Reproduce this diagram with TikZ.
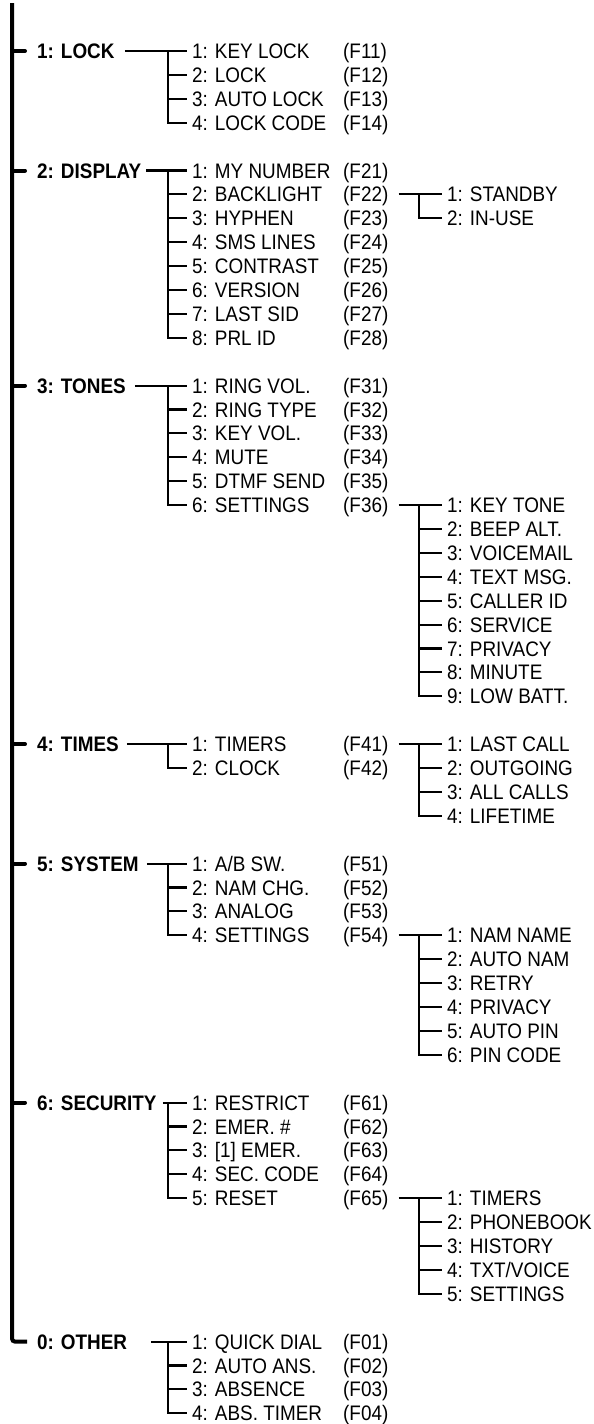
\documentclass[tikz,border=0pt]{standalone}
\usepackage{fontspec}
\setmainfont{Liberation Sans}[FakeStretch=0.9]

\begin{document}
\begin{tikzpicture}[x=1pt, y=-23.9pt,
		head/.style={anchor=west, inner sep=0pt, text height=15pt, text depth=0pt, font=\fontsize{21}{25}\selectfont\bfseries},
		entry/.style={anchor=west, inner xsep=5pt, inner ysep=0pt, text height=15pt, text depth=0pt, font=\fontsize{21}{25}\selectfont},
		fcode/.style={entry, inner xsep=0pt},
		trunk/.style={line width=4pt},
		wire/.style={line width=2.1pt}]
			\useasboundingbox (0, -2.134) rectangle (594, 57.448);
			\coordinate (top) at (12, -2.008);
			\coordinate (b2) at (168, 0);
			\coordinate (b3) at (419, 0);
			% top level
			\node[head] (lock) at (37, 0){1: LOCK};
			\node[head] (disp) at (37, 5){2: DISPLAY};
			\node[head] (tone) at (37, 14){3: TONES};
			\node[head] (time) at (37, 29){4: TIMES};
			\node[head] (sys) at (37, 34){5: SYSTEM};
			\node[head] (sec) at (37, 44){6: SECURITY};
			\node[head] (oth) at (37, 54){0: OTHER};
			\draw[trunk, rounded corners=3pt] (top) |- ([xshift=-10pt]oth.west);
			\draw[trunk, line cap=round] (lock.west -| top) -- ([xshift=-12pt]lock.west);
			\draw[trunk, line cap=round] (disp.west -| top) -- ([xshift=-12pt]disp.west);
			\draw[trunk, line cap=round] (tone.west -| top) -- ([xshift=-12pt]tone.west);
			\draw[trunk, line cap=round] (time.west -| top) -- ([xshift=-12pt]time.west);
			\draw[trunk, line cap=round] (sys.west -| top) -- ([xshift=-12pt]sys.west);
			\draw[trunk, line cap=round] (sec.west -| top) -- ([xshift=-12pt]sec.west);
			% 1: lock
			\node[entry] (lock1) at (187, 0){1: KEY LOCK};
			\node[entry] (lock2) at (187, 1){2: LOCK};
			\node[entry] (lock3) at (187, 2){3: AUTO LOCK};
			\node[entry] (lock4) at (187, 3){4: LOCK CODE};
			\node[fcode] (f11) at (343, 0){(F11)};
			\node[fcode] (f12) at (343, 1){(F12)};
			\node[fcode] (f13) at (343, 2){(F13)};
			\node[fcode] (f14) at (343, 3){(F14)};
			\draw[wire] ([xshift=10pt]lock.east) -- (lock1.west);
			\draw[wire] (lock1.west -| b2) |- (lock4.west);
			\draw[wire] (lock2.west -| b2) -- (lock2.west);
			\draw[wire] (lock3.west -| b2) -- (lock3.west);
			% 2: display
			\node[entry] (disp1) at (187, 5){1: MY NUMBER};
			\node[entry] (disp2) at (187, 6){2: BACKLIGHT};
			\node[entry] (disp3) at (187, 7){3: HYPHEN};
			\node[entry] (disp4) at (187, 8){4: SMS LINES};
			\node[entry] (disp5) at (187, 9){5: CONTRAST};
			\node[entry] (disp6) at (187, 10){6: VERSION};
			\node[entry] (disp7) at (187, 11){7: LAST SID};
			\node[entry] (disp8) at (187, 12){8: PRL ID};
			\node[fcode] (f21) at (343, 5){(F21)};
			\node[fcode] (f22) at (343, 6){(F22)};
			\node[fcode] (f23) at (343, 7){(F23)};
			\node[fcode] (f24) at (343, 8){(F24)};
			\node[fcode] (f25) at (343, 9){(F25)};
			\node[fcode] (f26) at (343, 10){(F26)};
			\node[fcode] (f27) at (343, 11){(F27)};
			\node[fcode] (f28) at (343, 12){(F28)};
			\draw[wire] ([xshift=5pt]disp.east) -- (disp1.west);
			\draw[wire] (disp1.west -| b2) |- (disp8.west);
			\draw[wire] (disp2.west -| b2) -- (disp2.west);
			\draw[wire] (disp3.west -| b2) -- (disp3.west);
			\draw[wire] (disp4.west -| b2) -- (disp4.west);
			\draw[wire] (disp5.west -| b2) -- (disp5.west);
			\draw[wire] (disp6.west -| b2) -- (disp6.west);
			\draw[wire] (disp7.west -| b2) -- (disp7.west);
			\node[entry] (lite1) at (442, 6){1: STANDBY};
			\node[entry] (lite2) at (442, 7){2: IN-USE};
			\draw[wire] ([xshift=10pt]f22.east) -- (lite1.west);
			\draw[wire] (lite1.west -| b3) |- (lite2.west);
			% 3: tones
			\node[entry] (tone1) at (187, 14){1: RING VOL.};
			\node[entry] (tone2) at (187, 15){2: RING TYPE};
			\node[entry] (tone3) at (187, 16){3: KEY VOL.};
			\node[entry] (tone4) at (187, 17){4: MUTE};
			\node[entry] (tone5) at (187, 18){5: DTMF SEND};
			\node[entry] (tone6) at (187, 19){6: SETTINGS};
			\node[fcode] (f31) at (343, 14){(F31)};
			\node[fcode] (f32) at (343, 15){(F32)};
			\node[fcode] (f33) at (343, 16){(F33)};
			\node[fcode] (f34) at (343, 17){(F34)};
			\node[fcode] (f35) at (343, 18){(F35)};
			\node[fcode] (f36) at (343, 19){(F36)};
			\draw[wire] ([xshift=9pt]tone.east) -- (tone1.west);
			\draw[wire] (tone1.west -| b2) |- (tone6.west);
			\draw[wire] (tone2.west -| b2) -- (tone2.west);
			\draw[wire] (tone3.west -| b2) -- (tone3.west);
			\draw[wire] (tone4.west -| b2) -- (tone4.west);
			\draw[wire] (tone5.west -| b2) -- (tone5.west);
			\node[entry] (snd1) at (442, 19){1: KEY TONE};
			\node[entry] (snd2) at (442, 20){2: BEEP ALT.};
			\node[entry] (snd3) at (442, 21){3: VOICEMAIL};
			\node[entry] (snd4) at (442, 22){4: TEXT MSG.};
			\node[entry] (snd5) at (442, 23){5: CALLER ID};
			\node[entry] (snd6) at (442, 24){6: SERVICE};
			\node[entry] (snd7) at (442, 25){7: PRIVACY};
			\node[entry] (snd8) at (442, 26){8: MINUTE};
			\node[entry] (snd9) at (442, 27){9: LOW BATT.};
			\draw[wire] ([xshift=10pt]f36.east) -- (snd1.west);
			\draw[wire] (snd1.west -| b3) |- (snd9.west);
			\draw[wire] (snd2.west -| b3) -- (snd2.west);
			\draw[wire] (snd3.west -| b3) -- (snd3.west);
			\draw[wire] (snd4.west -| b3) -- (snd4.west);
			\draw[wire] (snd5.west -| b3) -- (snd5.west);
			\draw[wire] (snd6.west -| b3) -- (snd6.west);
			\draw[wire] (snd7.west -| b3) -- (snd7.west);
			\draw[wire] (snd8.west -| b3) -- (snd8.west);
			% 4: times
			\node[entry] (time1) at (187, 29){1: TIMERS};
			\node[entry] (time2) at (187, 30){2: CLOCK};
			\node[fcode] (f41) at (343, 29){(F41)};
			\node[fcode] (f42) at (343, 30){(F42)};
			\draw[wire] ([xshift=8pt]time.east) -- (time1.west);
			\draw[wire] (time1.west -| b2) |- (time2.west);
			\node[entry] (tmr1) at (442, 29){1: LAST CALL};
			\node[entry] (tmr2) at (442, 30){2: OUTGOING};
			\node[entry] (tmr3) at (442, 31){3: ALL CALLS};
			\node[entry] (tmr4) at (442, 32){4: LIFETIME};
			\draw[wire] ([xshift=10pt]f41.east) -- (tmr1.west);
			\draw[wire] (tmr1.west -| b3) |- (tmr4.west);
			\draw[wire] (tmr2.west -| b3) -- (tmr2.west);
			\draw[wire] (tmr3.west -| b3) -- (tmr3.west);
			% 5: system
			\node[entry] (sys1) at (187, 34){1: A/B SW.};
			\node[entry] (sys2) at (187, 35){2: NAM CHG.};
			\node[entry] (sys3) at (187, 36){3: ANALOG};
			\node[entry] (sys4) at (187, 37){4: SETTINGS};
			\node[fcode] (f51) at (343, 34){(F51)};
			\node[fcode] (f52) at (343, 35){(F52)};
			\node[fcode] (f53) at (343, 36){(F53)};
			\node[fcode] (f54) at (343, 37){(F54)};
			\draw[wire] ([xshift=8pt]sys.east) -- (sys1.west);
			\draw[wire] (sys1.west -| b2) |- (sys4.west);
			\draw[wire] (sys2.west -| b2) -- (sys2.west);
			\draw[wire] (sys3.west -| b2) -- (sys3.west);
			\node[entry] (nam1) at (442, 37){1: NAM NAME};
			\node[entry] (nam2) at (442, 38){2: AUTO NAM};
			\node[entry] (nam3) at (442, 39){3: RETRY};
			\node[entry] (nam4) at (442, 40){4: PRIVACY};
			\node[entry] (nam5) at (442, 41){5: AUTO PIN};
			\node[entry] (nam6) at (442, 42){6: PIN CODE};
			\draw[wire] ([xshift=10pt]f54.east) -- (nam1.west);
			\draw[wire] (nam1.west -| b3) |- (nam6.west);
			\draw[wire] (nam2.west -| b3) -- (nam2.west);
			\draw[wire] (nam3.west -| b3) -- (nam3.west);
			\draw[wire] (nam4.west -| b3) -- (nam4.west);
			\draw[wire] (nam5.west -| b3) -- (nam5.west);
			% 6: security
			\node[entry] (sec1) at (187, 44){1: RESTRICT};
			\node[entry] (sec2) at (187, 45){2: EMER. \#};
			\node[entry] (sec3) at (187, 46){3: [1] EMER.};
			\node[entry] (sec4) at (187, 47){4: SEC. CODE};
			\node[entry] (sec5) at (187, 48){5: RESET};
			\node[fcode] (f61) at (343, 44){(F61)};
			\node[fcode] (f62) at (343, 45){(F62)};
			\node[fcode] (f63) at (343, 46){(F63)};
			\node[fcode] (f64) at (343, 47){(F64)};
			\node[fcode] (f65) at (343, 48){(F65)};
			\draw[wire] ([xshift=6pt]sec.east) -- (sec1.west);
			\draw[wire] (sec1.west -| b2) |- (sec5.west);
			\draw[wire] (sec2.west -| b2) -- (sec2.west);
			\draw[wire] (sec3.west -| b2) -- (sec3.west);
			\draw[wire] (sec4.west -| b2) -- (sec4.west);
			\node[entry] (rst1) at (442, 48){1: TIMERS};
			\node[entry] (rst2) at (442, 49){2: PHONEBOOK};
			\node[entry] (rst3) at (442, 50){3: HISTORY};
			\node[entry] (rst4) at (442, 51){4: TXT/VOICE};
			\node[entry] (rst5) at (442, 52){5: SETTINGS};
			\draw[wire] ([xshift=10pt]f65.east) -- (rst1.west);
			\draw[wire] (rst1.west -| b3) |- (rst5.west);
			\draw[wire] (rst2.west -| b3) -- (rst2.west);
			\draw[wire] (rst3.west -| b3) -- (rst3.west);
			\draw[wire] (rst4.west -| b3) -- (rst4.west);
			% 0: other
			\node[entry] (oth1) at (187, 54){1: QUICK DIAL};
			\node[entry] (oth2) at (187, 55){2: AUTO ANS.};
			\node[entry] (oth3) at (187, 56){3: ABSENCE};
			\node[entry] (oth4) at (187, 57){4: ABS. TIMER};
			\node[fcode] (f01) at (343, 54){(F01)};
			\node[fcode] (f02) at (343, 55){(F02)};
			\node[fcode] (f03) at (343, 56){(F03)};
			\node[fcode] (f04) at (343, 57){(F04)};
			\draw[wire] ([xshift=24pt]oth.east) -- (oth1.west);
			\draw[wire] (oth1.west -| b2) |- (oth4.west);
			\draw[wire] (oth2.west -| b2) -- (oth2.west);
			\draw[wire] (oth3.west -| b2) -- (oth3.west);
		\end{tikzpicture}
\end{document}
